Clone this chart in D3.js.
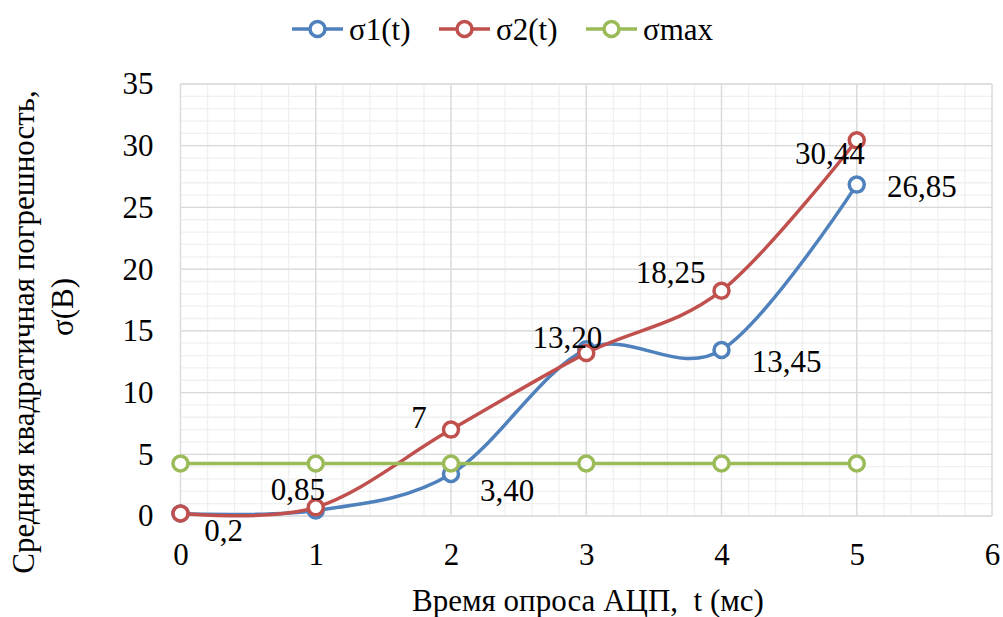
<!DOCTYPE html>
<html>
<head>
<meta charset="utf-8">
<script src="https://cdn.jsdelivr.net/npm/d3@7"></script>
<style>
  body { margin: 0; background: #fff; }
  svg text { font-family: "Times New Roman", "Liberation Serif", "DejaVu Serif", serif !important; fill: #000; }
</style>
</head>
<body>
<svg id="chart" width="1003" height="617"></svg>
<script>
// data
const tValues = [0, 1, 2, 3, 4, 5]
const sigma1 = [0.2, 0.45, 3.4, 13.5, 13.45, 26.85]
const sigma2 = [0.2, 0.7, 7, 13.2, 18.25, 30.44]
const sigmaMax = [4.25, 4.25, 4.25, 4.25, 4.25, 4.25]
const seriesNames = ["σ1(t)", "σ2(t)", "σmax"]
const xTicks = [0, 1, 2, 3, 4, 5, 6]
const yTicks = [0, 5, 10, 15, 20, 25, 30, 35]
// point labels as printed on the chart: [series, index, text]
const pointLabels = [
    [0, 0, "0,2"], [1, 1, "0,85"], [1, 2, "7"], [0, 2, "3,40"],
    [1, 3, "13,20"], [0, 4, "13,45"], [1, 4, "18,25"], [1, 5, "30,44"], [0, 5, "26,85"]
]

const colors = ["#4f81bd", "#c0504d", "#9bbb59"]
const pLeft = 180.5, pRight = 992, pTop = 84, pBottom = 516
const fs = 31

let svg = d3.select("#chart")

let x = d3.scaleLinear().domain([0, 6]).range([pLeft, pRight])
let y = d3.scaleLinear().domain([0, 35]).range([pBottom, pTop])

// minor grid
let minorX = d3.range(0, 6.001, 0.2), minorY = d3.range(0, 35.001, 1)
svg.append("g").selectAll("line").data(minorX).enter().append("line")
    .attr("x1", d => x(d)).attr("x2", d => x(d)).attr("y1", pTop).attr("y2", pBottom)
    .attr("stroke", "#f0f0f0").attr("stroke-width", 1.3)
svg.append("g").selectAll("line").data(minorY).enter().append("line")
    .attr("y1", d => y(d)).attr("y2", d => y(d)).attr("x1", pLeft).attr("x2", pRight)
    .attr("stroke", "#f0f0f0").attr("stroke-width", 1.3)

// major grid
svg.append("g").selectAll("line").data(xTicks).enter().append("line")
    .attr("x1", d => x(d)).attr("x2", d => x(d)).attr("y1", pTop).attr("y2", pBottom)
    .attr("stroke", "#d9d9d9").attr("stroke-width", 1.3)
svg.append("g").selectAll("line").data(yTicks).enter().append("line")
    .attr("y1", d => y(d)).attr("y2", d => y(d)).attr("x1", pLeft).attr("x2", pRight)
    .attr("stroke", "#d9d9d9").attr("stroke-width", 1.3)

// tick labels via d3 axes
svg.append("g").attr("transform", "translate(0," + pBottom + ")")
    .call(d3.axisBottom(x).tickValues(xTicks).tickSize(0).tickPadding(27).tickFormat(d3.format("d")))
svg.append("g").attr("transform", "translate(" + pLeft + ",0)")
    .call(d3.axisLeft(y).tickValues(yTicks).tickSize(0).tickPadding(27).tickFormat(d3.format("d")))
svg.selectAll(".domain").remove()
svg.selectAll(".tick text").attr("font-size", fs)

// series
let allSeries = [sigma1, sigma2, sigmaMax]
let line = d3.line()
    .x((d, i) => x(tValues[i]))
    .y(d => y(d))

allSeries.forEach(function(vals, s) {
    let g = svg.append("g")
    line.curve(s == 2 ? d3.curveLinear : d3.curveCardinal.tension(0))
    g.append("path").datum(vals)
        .attr("d", line)
        .attr("fill", "none").attr("stroke", colors[s]).attr("stroke-width", 3.5)
    g.selectAll("circle").data(vals).enter().append("circle")
        .attr("cx", (d, i) => x(tValues[i]))
        .attr("cy", d => y(d))
        .attr("r", 7.5)
        .attr("fill", "#fff").attr("stroke", colors[s]).attr("stroke-width", 3.5)
})

// point labels
let labelOffsets = {
    "0,2": [43, 17], "0,85": [-18, -18], "7": [-32, -12], "3,40": [56, 16],
    "13,20": [-19, -16], "13,45": [65, 12], "18,25": [-51, -18], "30,44": [-27, 13], "26,85": [65, 2]
}
svg.append("g").selectAll("text").data(pointLabels).enter().append("text")
    .attr("x", d => x(tValues[d[1]]) + labelOffsets[d[2]][0])
    .attr("y", d => y(allSeries[d[0]][d[1]]) + labelOffsets[d[2]][1])
    .attr("text-anchor", "middle").attr("dominant-baseline", "central")
    .attr("font-size", fs)
    .text(d => d[2])

// legend
let legendX = [292, 439, 586]
let legend = svg.append("g")
seriesNames.forEach(function(name, s) {
    legend.append("line").attr("x1", legendX[s]).attr("x2", legendX[s] + 51)
        .attr("y1", 29).attr("y2", 29).attr("stroke", colors[s]).attr("stroke-width", 3.5)
    legend.append("circle").attr("cx", legendX[s] + 25.5).attr("cy", 29).attr("r", 7.5)
        .attr("fill", "#fff").attr("stroke", colors[s]).attr("stroke-width", 3.5)
    legend.append("text").attr("x", legendX[s] + 57).attr("y", 29)
        .attr("dominant-baseline", "central").attr("font-size", fs).text(name)
})

// axis titles
svg.append("text").attr("x", 588).attr("y", 600)
    .attr("text-anchor", "middle").attr("dominant-baseline", "central").attr("font-size", fs)
    .style("white-space", "pre")
    .text("Время опроса АЦП,  t (мс)")
let yTitle = svg.append("g").attr("transform", "rotate(-90)")
yTitle.append("text").attr("x", -332).attr("y", 23).attr("text-anchor", "middle")
    .attr("dominant-baseline", "central").attr("font-size", fs).text("Средняя квадратичная погрешность,")
yTitle.append("text").attr("x", -307).attr("y", 62).attr("text-anchor", "middle")
    .attr("dominant-baseline", "central").attr("font-size", fs).text("σ(B)")
</script>
</body>
</html>
